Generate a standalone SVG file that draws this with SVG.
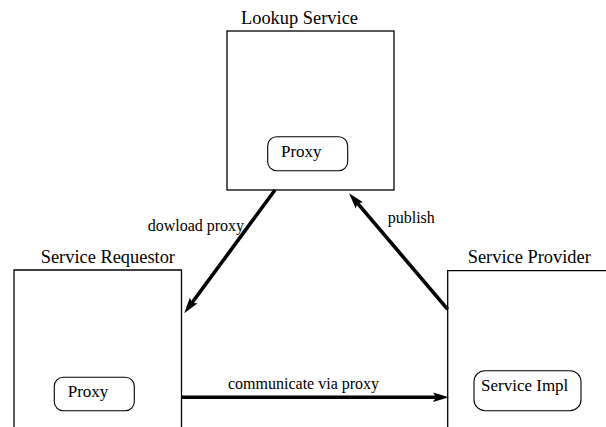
<svg xmlns="http://www.w3.org/2000/svg" width="606" height="427" viewBox="0 0 606 427">
<style>
.box{fill:#fff;stroke:#000;stroke-width:1.3}
.inner{fill:#fff;stroke:#000;stroke-width:1.1}
.title{font-family:"Liberation Serif","Times New Roman",serif;font-size:18.4px;fill:#000}
.itext{font-family:"Liberation Serif","Times New Roman",serif;font-size:17px;fill:#000}
.lbl{font-family:"Liberation Serif","Times New Roman",serif;font-size:16px;fill:#000}
.conn{stroke:#000;stroke-width:3.6;fill:none;marker-end:url(#ah)}
</style>
<defs>
<marker id="ah" markerUnits="userSpaceOnUse" viewBox="-8 -6 20 12" markerWidth="20" markerHeight="12" refX="0" refY="0" orient="auto" overflow="visible">
<path d="M10,0 L-6,-4.8 L-3,0 L-6,4.8 Z" fill="#000"/>
</marker>
</defs>
<rect width="606" height="427" fill="#fff"/>
<g id="lookup">
<text class="title" x="241" y="24">Lookup Service</text>
<rect class="box" x="227" y="31" width="167" height="159"/>
<rect class="inner" x="267.7" y="136.7" width="80" height="34" rx="9"/>
<text class="itext" x="281" y="157">Proxy</text>
</g>
<g id="requestor">
<text class="title" x="40.7" y="263">Service Requestor</text>
<path class="box" d="M14,432 V270 H181.5 V432"/>
<rect class="inner" x="54.3" y="377.3" width="80" height="33.4" rx="9"/>
<text class="itext" x="67.7" y="396.7">Proxy</text>
</g>
<g id="provider">
<text class="title" x="467.7" y="263">Service Provider</text>
<path class="box" d="M447.7,432 V270.7 H612"/>
<rect class="inner" x="474" y="370.7" width="107" height="40" rx="11"/>
<text class="itext" x="481" y="390.7">Service Impl</text>
</g>
<g id="connectors">
<path class="conn" d="M275,190 L190.2,305.3"/>
<text class="lbl" x="147.7" y="230.7">dowload proxy</text>
<path class="conn" d="M447.7,309.3 L355.5,200.9"/>
<text class="lbl" x="387.7" y="223.3">publish</text>
<path class="conn" d="M181.5,397.3 L439,397.3"/>
<text class="lbl" x="228" y="389">communicate via proxy</text>
</g>
</svg>
